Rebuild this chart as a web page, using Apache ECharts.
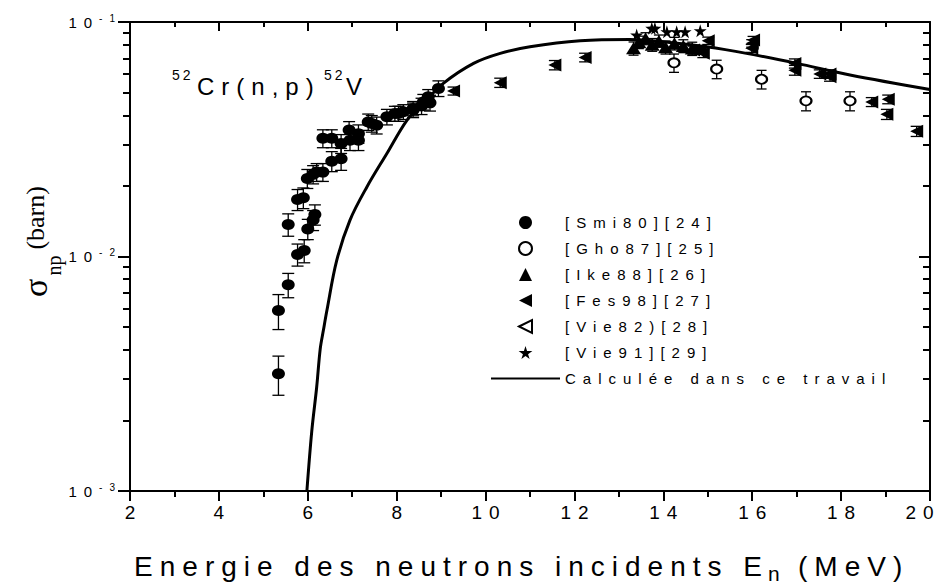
<!DOCTYPE html>
<html>
<head>
<meta charset="utf-8">
<script src="https://cdn.jsdelivr.net/npm/echarts@6/dist/echarts.min.js"></script>
<style>
  html, body { margin: 0; padding: 0; background: #fff; }
  #chart { width: 941px; height: 586px; }
  /* the original figure uses very wide letter spacing, except for the serif bits */
  #chart text { letter-spacing: 7px; }
  #chart text[style*="14px"] { letter-spacing: 3px; }
  #chart text[style*="Serif"] { letter-spacing: 0; }
</style>
</head>
<body>
<div id="chart"></div>
<script>
// [Smi80][24] : energy (MeV), cross section (barn), error (barn)
var smiE = [5.34, 5.34, 5.56, 5.56, 5.77, 5.92, 6.00, 6.12, 6.16, 5.77, 5.90, 5.99, 6.12, 6.20, 6.34,
            6.54, 6.75, 6.34, 6.54, 6.75, 6.93, 6.95, 7.14, 7.14, 7.36, 7.44, 7.55, 7.78, 7.96, 8.04,
            8.15, 8.37, 8.37, 8.56, 8.60, 8.71, 8.75, 8.94];
var smiS = [0.00316, 0.00588, 0.00757, 0.0137, 0.0102, 0.0106, 0.0131, 0.0143, 0.0151, 0.0175, 0.0178,
            0.0215, 0.0224, 0.0229, 0.0229, 0.0255, 0.0261, 0.0319, 0.0319, 0.0303, 0.0346, 0.0313,
            0.0334, 0.0313, 0.0375, 0.0369, 0.0363, 0.0394, 0.0407, 0.0407, 0.0414, 0.0421, 0.0428,
            0.0438, 0.0456, 0.0480, 0.0452, 0.0521];
var smiErr = [0.0006, 0.0010, 0.0009, 0.0015, 0.0011, 0.0012, 0.0013, 0.0014, 0.0015, 0.0018, 0.0018,
              0.0020, 0.0020, 0.0020, 0.0020, 0.0025, 0.0028, 0.0028, 0.0028, 0.0028, 0.0030, 0.0030,
              0.0030, 0.0030, 0.0030, 0.0030, 0.0030, 0.0030, 0.0030, 0.0030, 0.0030, 0.0030, 0.0030,
              0.0035, 0.0035, 0.0035, 0.0035, 0.0040];

// [Gho87][25]
var ghoE = [14.24, 15.20, 16.21, 17.21, 18.20];
var ghoS = [0.0670, 0.0630, 0.0570, 0.0461, 0.0461];
var ghoErr = [0.0060, 0.0057, 0.0052, 0.0043, 0.0043];

// [Ike88][26]
var ikeE = [13.33, 13.45, 13.60, 13.75, 13.90, 14.05, 14.25, 14.45, 14.65];
var ikeS = [0.0772, 0.0820, 0.0850, 0.0800, 0.0830, 0.0780, 0.0810, 0.0790, 0.0770];
var ikeErr = [0.0050, 0.0050, 0.0050, 0.0050, 0.0050, 0.0050, 0.0050, 0.0050, 0.0050];

// [Fes98][27]
var fesE = [9.28, 10.33, 11.56, 12.24, 14.68, 14.83, 14.90, 15.01, 15.99, 16.00, 16.03, 16.96, 16.96,
            17.52, 17.75, 17.75, 18.69, 19.06, 19.03, 19.70];
var fesS = [0.0508, 0.0551, 0.0655, 0.0706, 0.0759, 0.0759, 0.0735, 0.0832, 0.0772, 0.0811, 0.0838,
            0.0666, 0.0623, 0.0600, 0.0584, 0.0600, 0.0456, 0.0468, 0.0404, 0.0342];
var fesErr = [0.0020, 0.0025, 0.0030, 0.0030, 0.0030, 0.0030, 0.0030, 0.0030, 0.0030, 0.0030, 0.0030,
              0.0030, 0.0030, 0.0025, 0.0025, 0.0025, 0.0020, 0.0020, 0.0020, 0.0017];

// [Vie82)[28] - no point visible outside the 14 MeV cluster
var vie82E = [];
var vie82S = [];

// [Vie91][29]
var vie91E = [13.40, 13.74, 13.81, 14.08, 14.30, 14.49, 14.83];
var vie91S = [0.0880, 0.0940, 0.0940, 0.0909, 0.0909, 0.0909, 0.0918];

// Calculée dans ce travail
var calcE = [5.98, 6.09, 6.20, 6.28, 6.35, 6.43, 6.65, 6.95, 7.33, 7.78, 8.23, 8.53, 9.05, 9.73,
             10.33, 11.0, 12.13, 13.25, 13.99, 14.97, 15.87, 17.0, 18.2, 20.0];
var calcS = [0.00100, 0.00180, 0.00277, 0.00404, 0.00483, 0.00588, 0.0096, 0.0143, 0.0198, 0.0275,
             0.0381, 0.0435, 0.0547, 0.0666, 0.0735, 0.0784, 0.0832, 0.0843, 0.0824, 0.0784, 0.0735,
             0.0666, 0.0594, 0.0515];

// axis ticks
var xTicks = [2, 4, 6, 8, 10, 12, 14, 16, 18, 20];
var yMinorTicks = [0.002, 0.003, 0.004, 0.005, 0.006, 0.007, 0.008, 0.009,
                   0.02, 0.03, 0.04, 0.05, 0.06, 0.07, 0.08, 0.09];

var LS = 7; // letter spacing, same as in the css
var SANS = 'Liberation Sans';
var SERIF = 'Liberation Serif';

// right padding so that zrender leaves room for the css letter spacing
function pad(str) {
  return [0, str.length * LS, 0, 0];
}

function zip(a, b) {
  return a.map(function (v, i) { return [v, b[i]]; });
}

function errorBars(name, E, S, err, cap) {
  return {
    name: name,
    type: 'custom',
    silent: true,
    z: 1,
    clip: true,
    encode: { x: 0, y: 1 },
    data: E.map(function (v, i) { return [v, S[i], err[i]]; }),
    renderItem: function (params, api) {
      var x = api.value(0), y = api.value(1), e = api.value(2);
      var hi = api.coord([x, y + e]);
      var lo = api.coord([x, y - e]);
      var st = { stroke: '#000', lineWidth: 1.3 };
      return {
        type: 'group',
        children: [
          { type: 'line', shape: { x1: hi[0], y1: hi[1], x2: lo[0], y2: lo[1] }, style: st },
          { type: 'line', shape: { x1: hi[0] - cap, y1: hi[1], x2: hi[0] + cap, y2: hi[1] }, style: st },
          { type: 'line', shape: { x1: lo[0] - cap, y1: lo[1], x2: lo[0] + cap, y2: lo[1] }, style: st }
        ]
      };
    }
  };
}

var chart = echarts.init(document.getElementById('chart'), null, { renderer: 'svg' });

var black = '#000';
var triLeft = 'path://M0,50L100,0L100,100Z';
var triUp = 'path://M50,0L100,100L0,100Z';
var star = 'path://M50,0L61,35L98,35L68,57L79,91L50,70L21,91L32,57L2,35L39,35Z';

function label(text, x, y, size, align) {
  return {
    type: 'text', x: x, y: y, silent: true,
    style: { text: text, fontSize: size, fontFamily: SANS, fill: black,
             align: align || 'left', verticalAlign: 'middle' }
  };
}

var option = {
  animation: false,
  backgroundColor: '#fff',
  textStyle: { fontFamily: SANS, color: black },
  grid: { left: 130, right: 11, top: 22, bottom: 95, containLabel: false, outerBoundsMode: 'none' },
  legend: {
    orient: 'vertical',
    left: 486,
    top: 210,
    itemWidth: 69,
    itemHeight: 13,
    itemGap: 11,
    selectedMode: false,
    textStyle: { fontSize: 15, color: black, fontFamily: SANS },
    data: [
      { name: '[Smi80][24]', icon: 'circle' },
      { name: '[Gho87][25]', icon: 'emptyCircle' },
      { name: '[Ike88][26]', icon: triUp },
      { name: '[Fes98][27]', icon: triLeft },
      { name: '[Vie82)[28]', icon: triLeft },
      { name: '[Vie91][29]', icon: star },
      { name: 'Calculée dans ce travail', icon: 'path://M0,0H100V3H0Z' }
    ]
  },
  graphic: [
    // reaction label
    label('52', 172, 75, 14),
    label('Cr(n,p)', 197, 86, 24),
    label('52', 324, 75, 14),
    label('V', 346, 86, 24),
    // x axis title, E with subscript n
    label('Energie des neutrons incidents E', 769, 566, 28, 'right'),
    label('n', 768, 573, 21),
    label('(MeV)', 798, 566, 28)
  ],
  xAxis: [{
    type: 'value',
    position: 'bottom',
    min: 2, max: 20, interval: 2,
    axisLine: { lineStyle: { color: black, width: 2 } },
    axisTick: { inside: false, length: 10, lineStyle: { color: black, width: 2 } },
    minorTick: { show: true, splitNumber: 2, length: 6, lineStyle: { color: black, width: 2 } },
    splitLine: { show: false },
    axisLabel: {
      color: black, fontSize: 19, fontFamily: SANS, margin: 12, customValues: xTicks,
      padding: [0, 0, 0, LS],
      // the last label sits on the right edge, pull it in a little
      formatter: function (v) { return v === 20 ? '{r|' + v + '}' : String(v); },
      rich: { r: { fontSize: 19, fontFamily: SANS, color: black, padding: [0, 21, 0, 0] } }
    }
  }, {
    type: 'value',
    position: 'top',
    min: 2, max: 20, interval: 2,
    axisLine: { lineStyle: { color: black, width: 2 } },
    axisTick: { inside: true, length: 9, lineStyle: { color: black, width: 2 } },
    minorTick: { show: true, splitNumber: 2, length: 5, lineStyle: { color: black, width: 2 } },
    splitLine: { show: false },
    axisLabel: { show: false }
  }],
  yAxis: [{
    type: 'log',
    position: 'left',
    min: 0.001, max: 0.1, logBase: 10,
    axisLine: { show: true, lineStyle: { color: black, width: 2 } },
    axisTick: { inside: false, length: 12, lineStyle: { color: black, width: 2 } },
    splitLine: { show: false },
    axisLabel: {
      margin: -6,
      formatter: function (v) {
        return '{b|10}{s|' + Math.round(Math.log10(v)) + '}';
      },
      rich: {
        b: { fontSize: 15, fontFamily: SANS, color: black, lineHeight: 18, padding: pad('10') },
        s: { fontSize: 10, fontFamily: SANS, color: black, lineHeight: 10, verticalAlign: 'top', padding: pad('-1') }
      }
    },
    name: '{s|σ}{n|np}{b|(barn)}',
    nameLocation: 'middle',
    nameGap: 70,
    nameTextStyle: {
      rich: {
        s: { fontSize: 34, color: black, fontFamily: SERIF, lineHeight: 34, padding: [0, 3, 16, 30] },
        n: { fontSize: 20, color: black, fontFamily: SERIF, lineHeight: 20, padding: [24, 3, 2, 0] },
        b: { fontSize: 26, color: black, fontFamily: SERIF, lineHeight: 34, padding: [0, 0, 16, 3] }
      }
    }
  }, {
    type: 'log',
    position: 'left',
    min: 0.001, max: 0.1, logBase: 10,
    axisLine: { show: false },
    axisTick: { inside: false, length: 7, customValues: yMinorTicks, lineStyle: { color: black, width: 2 } },
    axisLabel: { show: false },
    splitLine: { show: false }
  }, {
    type: 'log',
    position: 'right',
    min: 0.001, max: 0.1, logBase: 10,
    axisLine: { show: true, lineStyle: { color: black, width: 2 } },
    axisTick: { inside: true, length: 11, lineStyle: { color: black, width: 2 } },
    axisLabel: { show: false },
    splitLine: { show: false }
  }, {
    type: 'log',
    position: 'right',
    min: 0.001, max: 0.1, logBase: 10,
    axisLine: { show: false },
    axisTick: { inside: true, length: 7, customValues: yMinorTicks, lineStyle: { color: black, width: 2 } },
    axisLabel: { show: false },
    splitLine: { show: false }
  }],
  series: [
    errorBars('err-smi', smiE, smiS, smiErr, 6),
    errorBars('err-gho', ghoE, ghoS, ghoErr, 5),
    errorBars('err-ike', ikeE, ikeS, ikeErr, 5),
    errorBars('err-fes', fesE, fesS, fesErr, 6),
    {
      name: 'Calculée dans ce travail',
      type: 'line',
      data: zip(calcE, calcS),
      smooth: 0.35,
      symbol: 'none',
      showSymbol: false,
      clip: true,
      z: 2,
      lineStyle: { color: black, width: 3 },
      itemStyle: { color: black }
    },
    {
      name: '[Smi80][24]', type: 'scatter', z: 3,
      symbol: 'circle', symbolSize: [13, 11],
      itemStyle: { color: black, opacity: 1 },
      data: zip(smiE, smiS)
    },
    {
      name: '[Gho87][25]', type: 'scatter', z: 3,
      symbol: 'emptyCircle', symbolSize: [11, 9],
      itemStyle: { color: black, borderWidth: 1.2, opacity: 1 },
      data: zip(ghoE, ghoS)
    },
    {
      name: '[Ike88][26]', type: 'scatter', z: 3,
      symbol: triUp, symbolSize: [15, 12],
      itemStyle: { color: black, opacity: 1 },
      data: zip(ikeE, ikeS)
    },
    {
      name: '[Fes98][27]', type: 'scatter', z: 3,
      symbol: triLeft, symbolSize: [13, 13],
      itemStyle: { color: black, opacity: 1 },
      data: zip(fesE, fesS)
    },
    {
      name: '[Vie82)[28]', type: 'scatter', z: 3,
      symbol: triLeft, symbolSize: [12, 12],
      itemStyle: { color: '#fff', borderColor: black, borderWidth: 1, opacity: 1 },
      data: zip(vie82E, vie82S)
    },
    {
      name: '[Vie91][29]', type: 'scatter', z: 4,
      symbol: star, symbolSize: [13, 13],
      itemStyle: { color: black, opacity: 1 },
      data: zip(vie91E, vie91S)
    }
  ]
};

chart.setOption(option);
</script>
</body>
</html>
